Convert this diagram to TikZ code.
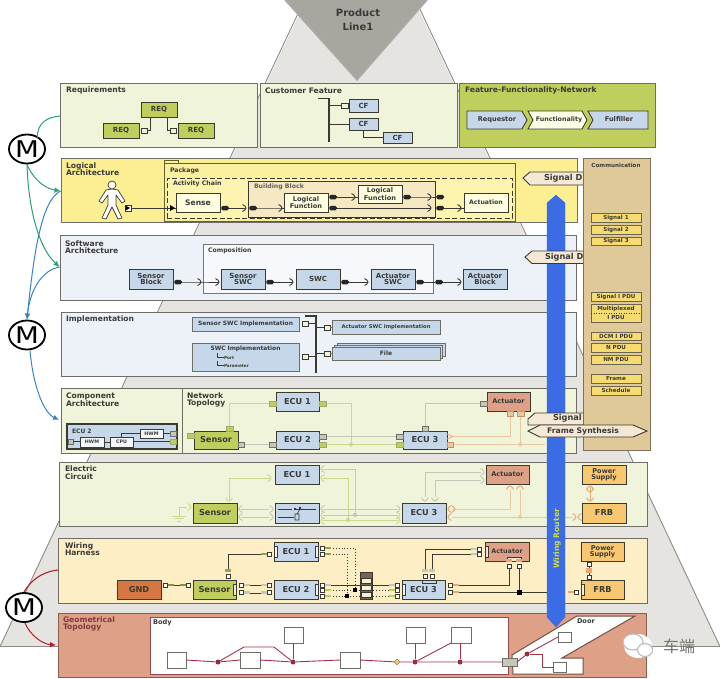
\documentclass[tikz,border=0pt]{standalone}
\usepackage{graphicx}
\usepackage{fontspec}
\setmainfont{DejaVu Sans}
\newfontfamily\cjkf{Noto Sans CJK SC}
\usetikzlibrary{arrows.meta,calc,shapes.geometric}
\definecolor{txt}{HTML}{3A3A38}
\definecolor{edge}{HTML}{6F6E66}
\definecolor{dk}{HTML}{3B3A30}
\definecolor{pyr}{HTML}{E6E4E1}
\definecolor{pale}{HTML}{F0F4DA}
\definecolor{lime}{HTML}{BFCE5C}
\definecolor{ecu}{HTML}{C6D7EA}
\definecolor{act}{HTML}{DFA088}
\definecolor{orng}{HTML}{F8C870}
\definecolor{sig}{HTML}{F6DC70}
\definecolor{comm}{HTML}{DFC998}
\definecolor{tagf}{HTML}{F5E8D4}
\definecolor{lgreen}{HTML}{CCD88C}
\definecolor{lgray}{HTML}{C6C7B6}
\definecolor{ltan}{HTML}{E8C9A0}
\definecolor{lorng}{HTML}{E9A774}
\definecolor{teal}{HTML}{2A9D7A}
\definecolor{mblue}{HTML}{3A82C4}
\definecolor{mred}{HTML}{B3202A}
\definecolor{route}{HTML}{A8324A}
\definecolor{logf}{HTML}{FBEE93}
\definecolor{pkgf}{HTML}{FBF0A0}
\definecolor{actf}{HTML}{FDF4B0}
\definecolor{bbf}{HTML}{F6E8C3}
\definecolor{swf}{HTML}{EDF1F8}
\definecolor{cpf}{HTML}{F6F8FC}
\definecolor{wiref}{HTML}{FDEEC6}
\definecolor{router}{HTML}{3B6CE6}
\definecolor{tri}{HTML}{A9A6A0}
\newcommand\Bx[7][]{%
 \pgfmathsetmacro\bxW{#5-#3}\pgfmathsetmacro\bxH{#6-#4}%
 \pgfmathsetmacro\bxX{(#3+#5)/2}\pgfmathsetmacro\bxY{(#4+#6)/2}%
 \node[bx,minimum width=\bxW pt,minimum height=\bxH pt,#1] (#2) at (\bxX,\bxY) {#7};}
\newcommand\Sk[5][dk]{% socket: colour, name, x, y, angle
 \coordinate (#2) at (#3,#4);
 \draw[#1,line width=0.9pt,shift={(#3,#4)},rotate=#5] (-2.5,-3.5) .. controls (0,-3) and (0.5,-1) .. (1,0) .. controls (0.5,1) and (0,3) .. (-2.5,3.5);}
\newcommand\Pn[5][180]{% pin: angle, name, x, y, colour
 \node[pinb,fill=white] (#2) at (#3,#4) {};
 \node[pinb,fill=#5,minimum width=6pt,minimum height=2.6pt,draw=none] at ($(#2)+(#1:5.5pt)$) {};}
\tikzset{
 x=1pt,y=-1pt,
 bx/.style={draw=dk,line width=0.9pt,inner sep=0pt,outer sep=0pt,align=center,text=txt,
   font=\fontsize{7}{7}\selectfont\bfseries},
 layer/.style={draw=edge,line width=0.9pt},
 lab/.style={inner sep=0pt,outer sep=0pt,anchor=west,align=left,text=txt,
   font=\fontsize{7.6}{7.6}\selectfont\bfseries},
 small/.style={font=\fontsize{6.2}{6.2}\selectfont\bfseries},
 big/.style={font=\fontsize{8.2}{8.2}\selectfont\bfseries},
 ecub/.style={fill=ecu,big},
 swb/.style={fill=ecu,font=\fontsize{7}{6.6}\selectfont\bfseries},
 gp/.style={fill=lgray,draw=edge,line width=0.5pt},
 lp/.style={fill=lime,draw=lgreen!70!dk,line width=0.5pt},
 op/.style={fill=ltan,draw=lorng!80!dk,line width=0.6pt},
 plus/.style={fill=pale,draw=dk,line width=0.5pt},
 prov/.style={fill=black!85,draw=none,rounded corners=1.5pt,minimum width=7.5pt,minimum height=4.5pt,inner sep=0pt,outer sep=0pt},
 wire/.style={dk,line width=0.9pt},
 sigb/.style={fill=sig,draw=dk!70!comm,line width=0.8pt,font=\fontsize{5.6}{6.4}\selectfont\bfseries},
 pinb/.style={draw=dk,line width=0.4pt,minimum width=4.5pt,minimum height=4pt,inner sep=0pt,outer sep=0pt},
 tag/.style={fill=tagf,draw=dk,line width=0.9pt},
 mcirc/.style={ellipse,draw=black,line width=1.8pt,fill=white,minimum width=36pt,minimum height=29pt,inner sep=0pt,
   font=\fontsize{23}{23}\selectfont},
 marr/.style={line width=1pt,-{Latex[length=6pt,width=5.5pt]}},
 geo/.style={fill=white,draw=edge,line width=0.9pt},
 rt/.style={route,line width=0.9pt},
 rdot/.style={circle,fill=route!90!black,inner sep=0pt,minimum size=5pt},
 bsq/.style={fill=black,inner sep=0pt,minimum size=3.5pt},
}
\begin{document}
\begin{tikzpicture}
\useasboundingbox (0,0) rectangle (720,678);
% pyramid
\fill[pyr] (320,-30) -- (400,-30) -- (720,646.5) -- (0,646.5) -- cycle;
\draw[edge!80,line width=0.9pt] (302,5) -- (0,646.5) -- (720,646.5) -- (418,5);
\fill[tri] (285,0) -- (357,80) -- (427,0) -- cycle;
\draw[black!25!pyr,line width=1.4pt] (285,0) -- (357,80) -- (427,0);
\node[align=center,inner sep=0pt,text=txt,font=\fontsize{10}{14}\selectfont\bfseries] (pl) at (358,20) {Product\\Line1};

% layers
\Bx[layer,fill=pale]{lReq}{60}{83}{257}{147}{}
\Bx[layer,fill=pale]{lCF}{260}{83}{457}{147}{}
\Bx[layer,fill=lime]{lFFN}{459}{83}{655}{147}{}
\Bx[layer,fill=logf]{lLog}{61}{158}{577}{222}{}
\Bx[layer,fill=swf]{lSW}{60}{235}{576}{300}{}
\Bx[layer,fill=swf]{lImp}{61}{312}{576}{376}{}
\Bx[layer,fill=pale]{lComp}{61}{388}{182}{453}{}
\Bx[layer,fill=pale]{lNet}{182}{388}{576}{453}{}
\Bx[layer,fill=pale]{lEl}{59}{462}{647}{526}{}
\Bx[layer,fill=wiref]{lWH}{58}{538}{647}{603}{}
\Bx[draw=act!60!black,line width=1pt,fill=act]{lGeo}{58}{613}{646}{677}{}

\node[lab] (t1) at (66,90.5) {Requirements};
\node[lab] (t2) at (265,90.5) {Customer Feature};
\node[lab] (t3) at (465,90.5) {Feature-Functionality-Network};
\node[lab] (t4) at (66,169) {Logical\\Architecture};
\node[lab] (t5) at (65,247) {Software\\Architecture};
\node[lab] (t6) at (66,319) {Implementation};
\node[lab] (t7) at (66,400) {Component\\Architecture};
\node[lab] (t8) at (187,400) {Network\\Topology};
\node[lab] (t9) at (65,472.5) {Electric\\Circuit};
\node[lab] (t10) at (65,549) {Wiring\\Harness};
\node[lab,text=route!70!act!70!black] (t11) at (63,624) {Geometrical\\Topology};

% requirements
\Bx[fill=lime]{r1}{141}{102}{177}{117}{REQ}
\Bx[fill=lime]{r2}{103}{123}{139}{138}{REQ}
\Bx[fill=lime]{r3}{178}{123}{214}{138}{REQ}
\Bx[plus]{rp1}{141}{128}{147}{133}{}
\Bx[plus]{rp2}{170}{128}{176}{133}{}
\draw[wire] (150,117) |- (rp1.east);
\draw[wire] (167,117) |- (rp2.west);

% customer feature
\Bx[fill=ecu]{c1}{349}{99}{378}{112}{CF}
\Bx[fill=ecu]{c2}{349}{118}{378}{130}{CF}
\Bx[fill=ecu]{c3}{383}{132}{412}{143}{CF}
\Bx[plus]{cp}{341}{103}{348}{108}{}
\coordinate (cb) at (329,142);
\draw[wire,line width=1.1pt] (318,98.5) -- (329,98.5) -- (cb);
\draw[wire] (329,105.5) -- (cp.west);
\draw[wire] (cp.east) -- (c1.west |- cp.east);
\draw[wire] (329,124) -- (c2.west);
\draw[wire] (363,130) |- (c3.west);

% FFN
\draw[fill=ecu,draw=dk,line width=0.9pt] (467,111) -- (522,111) -- (527,120) -- (522,129) -- (467,129) -- cycle;
\draw[fill=white!90!yellow,draw=dk,line width=0.9pt] (528,111) -- (582,111) -- (587,120) -- (582,129) -- (528,129) -- (533,120) -- cycle;
\draw[fill=ecu,draw=dk,line width=0.9pt] (588,111) -- (648,111) -- (648,129) -- (588,129) -- (593,120) -- cycle;
\node[text=txt,font=\fontsize{6.6}{6.6}\selectfont\bfseries] (ff1) at (497,119.5) {Requestor};
\node[text=txt,font=\fontsize{6.3}{6.3}\selectfont\bfseries] (ff2) at (559,119.5) {Functionality};
\node[text=txt,font=\fontsize{6.6}{6.6}\selectfont\bfseries] (ff3) at (619,119.5) {Fulfiller};

% logical architecture
\Bx[fill=pkgf,line width=1pt,draw=dk!80!yellow]{pkgTab}{164}{160}{178}{164}{}
\Bx[fill=pkgf,line width=1pt,draw=dk!80!yellow]{pkg}{164}{163}{515}{221}{}
\Bx[fill=actf,dashed,dash pattern=on 5pt off 2.5pt]{act1}{167}{178}{512}{218}{}
\node[lab,font=\fontsize{6.2}{6.2}\selectfont\bfseries] (pkt) at (170,171) {Package};
\node[lab,font=\fontsize{6.2}{6.2}\selectfont\bfseries] (act) at (173,184) {Activity Chain};
\Bx[fill=bbf]{bb}{248}{181}{435}{217}{}
\node[lab,font=\fontsize{6.2}{6.2}\selectfont\bfseries,text=txt!80!white] (bbt) at (254,187) {Building Block};
\Bx[fill=yellow!12!white,font=\fontsize{7.6}{7.6}\selectfont\bfseries]{sense}{176}{193}{220}{212}{Sense}
\Bx[fill=yellow!12!white,font=\fontsize{6.6}{6.2}\selectfont\bfseries]{lf1}{284}{193}{328}{212}{Logical\\Function}
\Bx[fill=yellow!12!white,font=\fontsize{6.6}{6.2}\selectfont\bfseries]{lf2}{358}{185}{402}{203}{Logical\\Function}
\Bx[fill=yellow!12!white,font=\fontsize{6.2}{6.2}\selectfont\bfseries]{actn}{464}{193}{508}{212}{Actuation}
% human
\draw[fill=white,draw=dk,line width=0.7pt,line join=round] (112,189) -- (106,190) -- (99,201) -- (102,203) -- (108,195) -- (108,205) -- (102,218) -- (106,219) -- (112,207) -- (118,219) -- (122,218) -- (116,205) -- (116,195) -- (122,203) -- (125,201) -- (118,190) -- cycle;
\node[circle,draw=dk,fill=white,line width=0.7pt,minimum size=8pt,inner sep=0pt] (head) at (112,185) {};
\Bx[fill=white,line width=0.6pt]{hp}{125}{205}{131}{211}{}
\draw[wire] (hp.east) -- (sense.west |- hp.east);
\fill[black] (170,205) -- (175,208) -- (170,211) -- cycle;
\fill[black] (125.5,205.5) -- (130,208) -- (125.5,210.5) -- cycle;
\node[prov] (pa) at (225,208) {};
\Sk{sa}{245}{208}{0}
\node[prov] (pb) at (253,208) {};
\Sk{sb}{281}{208}{0}
\draw[wire] (pa) -- (sa) (pb) -- (sb) -- (lf1.west |- sb);
\node[prov] (pc) at (333,197) {};
\node[prov] (pd) at (333,208) {};
\Sk{sc}{354}{197}{0}
\Sk{sd}{430}{208}{0}
\node[prov] (pe) at (440,208) {};
\Sk{se}{460}{208}{0}
\draw[wire] (pc) -- (lf2.west |- pc);
\draw[wire] (pd) -- (sd) (pe) -- (actn.west |- pe);
\node[prov] (pf) at (407,197) {};
\Sk{sf}{430}{197}{0}
\node[prov] (pg) at (440,197) {};
\draw[wire] (pf) -- (sf) -- (pg);

% software architecture
\Bx[fill=cpf,draw=dk!70!white,line width=1pt]{comp}{203}{244}{433}{293}{}
\node[lab,font=\fontsize{6.2}{6.2}\selectfont\bfseries] (compt) at (208,250.5) {Composition};
\Bx[swb]{sb1}{129}{269}{173}{289}{Sensor\\Block}
\Bx[swb]{sb2}{221}{269}{265}{289}{Sensor\\SWC}
\Bx[swb]{sb3}{296}{269}{340}{289}{SWC}
\Bx[swb]{sb4}{371}{269}{415}{289}{Actuator\\SWC}
\Bx[swb]{sb5}{463}{269}{507}{289}{Actuator\\Block}
\node[prov] (q1) at (178,282) {};
\Sk{k1}{200}{282}{0}
\Sk{k2}{218}{282}{0}
\node[prov] (q2) at (270,282) {};
\Sk{k3}{292}{282}{0}
\node[prov] (q3) at (345,282) {};
\Sk{k4}{367}{282}{0}
\node[prov] (q4) at (420,282) {};
\node[prov] (q5) at (439,282) {};
\Sk{k5}{460}{282}{0}
\draw[wire] (q1) -- (k1) -- (k2);
\draw[wire] (q2) -- (k3);
\draw[wire] (q3) -- (k4);
\draw[wire] (q4) -- (q5) -- (k5);

% implementation
\Bx[swb,font=\fontsize{5.9}{6}\selectfont\bfseries,draw=edge]{im1}{192}{317}{299}{331}{Sensor SWC Implementation}
\Bx[swb,draw=edge,text depth=0pt]{im2}{192}{343}{299}{371}{}
\node[text=txt,inner sep=0pt,font=\fontsize{5.9}{6}\selectfont\bfseries] (im2t) at (245.5,348.5) {SWC Implementation};
\node[lab,font=\fontsize{4.2}{4.2}\selectfont\bfseries] (im2p) at (224,357.5) {Port};
\node[lab,font=\fontsize{4.2}{4.2}\selectfont\bfseries] (im2q) at (224,365.5) {Parameter};
\draw[dk,line width=0.5pt] (217,353) |- (im2p.west) (217,361) |- (im2q.west);
\Bx[plus]{ip1}{302}{321}{308}{326}{}
\Bx[plus]{ip2}{302}{354}{308}{359}{}
\Bx[plus]{ip3}{324}{325}{330}{330}{}
\Bx[plus]{ip4}{324}{351}{330}{356}{}
\coordinate (ib) at (316,373);
\draw[wire,line width=1.1pt] (305,316) -- (316,316) -- (ib);
\draw[wire] (ip1.east) -- (316,323.5);
\draw[wire] (ip2.east) -- (316,356.5);
\draw[wire] (316,327.5) -- (ip3.west);
\draw[wire] (316,353.5) -- (ip4.west);
\Bx[swb,font=\fontsize{5.2}{6}\selectfont\bfseries,draw=edge]{im3}{332}{320}{440}{334}{Actuator SWC Implementation}
\Bx[swb,draw=edge]{fl3}{337}{343}{445}{356}{}
\Bx[swb,draw=edge]{fl2}{334.5}{345}{442.5}{358}{}
\Bx[swb,draw=edge,font=\fontsize{6}{6}\selectfont\bfseries]{fl1}{332}{347}{440}{360}{File}
\draw[wire,edge] (ip3.east) -- (im3.west |- ip3.east);
\draw[wire,edge] (ip4.east) -- (fl1.west |- ip4.east);

% component architecture
\Bx[fill=ecu,line width=1.2pt]{ce}{67}{424}{177}{449}{}
\node[lab,font=\fontsize{6}{6}\selectfont\bfseries] (cet) at (72,431) {ECU 2};
\Bx[fill=white!80!ecu,small,font=\fontsize{4.8}{5}\selectfont\bfseries]{ch1}{80}{437}{104}{447}{HWM}
\Bx[fill=white!80!ecu,small,font=\fontsize{4.8}{5}\selectfont\bfseries]{cc}{110}{437}{133}{447}{CPU}
\Bx[fill=white!80!ecu,small,font=\fontsize{4.8}{5}\selectfont\bfseries]{ch2}{140}{429}{163}{438}{HWM}
\Bx[gp]{cg0}{68}{439}{73}{444}{}
\Bx[gp]{cg1}{170}{431}{176}{436}{}
\Bx[lp]{cg2}{170}{439}{176}{444}{}
\draw[wire,line width=0.7pt] (cg0.east) -- (ch1.west |- cg0.east) (ch1.east) -- (cc.west);
\draw[wire,line width=0.7pt] (121,437) |- (ch2.west);
\draw[wire,line width=0.7pt] (cc.east |- cg2) -- (cg2.west);
\draw[wire,line width=0.7pt] (ch2.east |- cg1) -- (cg1.west);

% network topology
\draw[lgreen,line width=0.9pt] (229,426) |- (269,403.5) (326,403.5) -| (351,445);
\draw[lgreen,line width=0.9pt] (326,444.5) -- (396,444.5);
\draw[lgray,line width=0.9pt] (326,436.5) -- (396,436.5) (244,444.5) -- (269,444.5) (425,426) |- (480,403.5);
\draw[ltan,line width=0.9pt] (453,436.5) -| (510,416) (453,444.5) -- (545,444.5) (520,444.5) -- (520,416);
\fill[lgreen] (351,444.5) circle (2pt);
\fill[ltan] (520,444.5) circle (2pt);
\Bx[ecub]{n1}{276}{392}{319}{411}{ECU 1}
\Bx[ecub]{n2}{276}{431}{319}{449}{ECU 2}
\Bx[ecub]{n3}{403}{431}{447}{449}{ECU 3}
\Bx[big,fill=lime]{ns}{194}{431}{238}{449}{Sensor}
\Bx[fill=act,font=\fontsize{6.6}{6.6}\selectfont\bfseries]{na}{487}{392}{530}{411}{Actuator}
\Bx[lp]{a1}{187}{433}{194}{438}{}
\Bx[lp]{a2}{226}{426}{233}{431}{}
\Bx[gp]{a3}{238}{442}{244}{447}{}
\Bx[lp]{a4}{269}{401}{276}{406}{}
\Bx[lp]{a5}{319}{401}{326}{406}{}
\Bx[gp]{a6}{269}{442}{276}{447}{}
\Bx[gp]{a7}{319}{434}{326}{439}{}
\Bx[lp]{a8}{319}{442}{326}{447}{}
\Bx[gp]{a9}{396}{434}{403}{439}{}
\Bx[lp]{a10}{396}{442}{403}{447}{}
\Bx[gp]{a11}{422}{426}{428}{431}{}
\Bx[op]{a12}{447}{442}{453}{447}{}
\Bx[gp]{a13}{480}{401}{487}{406}{}
\Bx[op]{a14}{507}{411}{513}{416}{}
\Bx[op]{a15}{517}{411}{524}{416}{}
\draw[lorng,line width=0.7pt] (447,434) -- (453,436.5) -- (447,439);

% electric circuit
\draw[lgreen,line width=0.9pt] (229,500) |- (270,478);
\draw[lgreen,line width=0.9pt] (187,507) -- (179,507) -- (179,516);
\draw[lgreen,line width=0.9pt] (172,516) -- (186,516) (174.5,518.5) -- (183.5,518.5) (177,521) -- (181,521);
\draw[lgray,line width=0.9pt] (241,509) -- (269,509) (241,517) -- (269,517);
\draw[lgreen,line width=0.9pt] (323,478) -| (348,520);
\draw[lgreen,line width=0.9pt] (323,520) -- (398,520);
\draw[lgray,line width=0.9pt] (323,469) -| (355,515);
\draw[lgray,line width=0.9pt] (323,509) -- (398,509) (323,515) -- (398,515);
\fill[lgreen] (348,520) circle (2pt);
\fill[lgray] (355,515) circle (2pt);
\draw[lgray,line width=0.9pt] (425,497) |- (481,472) (435,497) |- (481,480);
\draw[ltan,line width=0.9pt] (452,509) -| (510,490) (452,517) -- (573,517) (520,517) -- (520,490);
\fill[ltan] (520,517) circle (2pt);
\Bx[ecub]{e1}{275}{465}{319}{484}{ECU 1}
\Bx[fill=ecu]{e2}{275}{503}{319}{523}{}
\Bx[ecub]{e3}{402}{503}{446}{523}{ECU 3}
\Bx[big,fill=lime]{es}{193}{503}{237}{523}{Sensor}
\Bx[fill=act,font=\fontsize{6.6}{6.6}\selectfont\bfseries]{ea}{486}{465}{529}{484}{Actuator}
\Bx[fill=orng,font=\fontsize{6.6}{6.4}\selectfont\bfseries]{ep}{582}{465}{626}{484}{Power\\Supply}
\Bx[fill=orng,big]{ef}{582}{503}{626}{523}{FRB}
\draw[wire,line width=0.7pt] (278,509) -- (292,509) (296,509) -- (316,509) (278,517) -- (294,517);
\fill[black] (295,509) circle (1.2pt) (300,508) circle (1.2pt);
\draw[wire,line width=0.6pt] (295,514) rectangle (299,520) (300,509) -- (297,514);
\Sk[lgreen]{x1}{270}{478}{0}
\Sk[lgreen]{x2}{229}{500}{-90}
\Sk[lgreen]{x3}{190}{507}{0}
\Sk[lgray]{x4}{240}{509}{180}
\Sk[lgray]{x5}{240}{517}{180}
\Sk[lgray]{x6}{272}{509}{0}
\Sk[lgray]{x7}{272}{517}{0}
\Sk[lgreen]{x8}{322}{478}{180}
\Sk[lgray]{x9}{322}{469}{180}
\Sk[lgray]{x10}{322}{509}{180}
\Sk[lgreen]{x11}{322}{515.5}{180}
\Sk[lgreen]{x12}{322}{521}{180}
\Sk[lgray]{x13}{399}{509}{0}
\Sk[lgreen]{x14}{399}{515.5}{0}
\Sk[lgreen]{x15}{399}{520}{0}
\Sk[lgray]{x16}{425}{500}{-90}
\Sk[lgray]{x17}{435}{500}{-90}
\Sk[lgray]{x18}{483}{472}{0}
\Sk[lgray]{x19}{483}{480}{0}
\Sk[lorng]{x20}{449}{509}{180}
\Sk[lorng]{x20b}{454}{509}{0}
\Sk[lorng]{x21}{449}{517}{180}
\Sk[lorng]{x22}{510}{487}{90}
\Sk[lorng]{x23}{520}{487}{90}
\Sk[lorng]{x24}{579}{517}{180}
\Sk[lorng]{x25}{575}{517}{0}
\Sk[lorng]{x26}{590}{487}{90}
\Sk[lorng]{x27}{590}{491}{-90}
\Sk[lorng]{x28}{590}{500}{-90}
\draw[lorng,line width=0.9pt] (590,487) -- (590,500);

% wiring harness
\draw[wire] (228,570) |- (262,554);
\draw[wire,line width=1pt] (425,572) |- (472,549) (432,572) |- (472,554);
\draw[wire,line width=1pt] (240,585) -- (268,585) (240,593) -- (268,593) (170,585) -- (184,585);
\draw[wire,line width=1pt] (327,585) -- (395,585);
\draw[wire,dotted,line width=1pt] (327,590) -- (395,590) (327,596) -- (395,596) (327,548) -| (355,590) (327,554) -| (347,596);
\draw[wire,line width=1pt] (456,585) -| (509,567) (456,592) -- (565,592) (519,592) -- (519,567);
\draw[wire,line width=1pt] (589,562) -- (589,580);
\Bx[ecub]{w1}{274}{542}{318}{561}{ECU 1}
\Bx[ecub]{w2}{274}{580}{318}{599}{ECU 2}
\Bx[ecub]{w3}{402}{580}{445}{599}{ECU 3}
\Bx[big,fill=lime]{ws}{193}{580}{236}{599}{Sensor}
\Bx[big,fill=orng!70!red!85!black,text=dk]{wg}{117}{580}{161}{599}{GND}
\Bx[fill=act,font=\fontsize{6.4}{6.4}\selectfont\bfseries]{wa}{485}{542}{529}{561}{Actuator}
\Bx[fill=orng,font=\fontsize{6.6}{6.4}\selectfont\bfseries]{wp}{581}{542}{624}{561}{Power\\Supply}
\Bx[fill=orng,big]{wf}{581}{580}{624}{599}{FRB}
% inner connector bars
\Bx[fill=white!70!ecu,line width=0.7pt]{b1}{274}{546}{277}{557}{}
\Bx[fill=white!70!ecu,line width=0.7pt]{b2}{315}{546}{318}{557}{}
\Bx[fill=white!70!ecu,line width=0.7pt]{b3}{315}{584}{318}{595}{}
\Bx[fill=white!70!ecu,line width=0.7pt]{b4}{402}{584}{405}{595}{}
\Bx[fill=white!70!lime,line width=0.7pt]{b5}{233}{584}{236}{595}{}
\Bx[fill=white!70!act,line width=0.7pt]{b6}{485}{546}{488}{557}{}
\Bx[fill=white!70!orng,line width=0.7pt]{b7}{581}{584}{584}{595}{}
\Bx[fill=ecu,line width=0.7pt]{b8}{422}{580}{436}{583}{}
\Bx[fill=white!70!act,line width=0.7pt]{b9}{507}{557}{521}{561}{}
\Pn[180]{y1}{269}{554}{lime!80!black}
\Pn[90]{y3}{228}{576}{lime!80!black}
\Pn[180]{y4}{188}{585}{lime!70!black}
\Pn[0]{y5}{165}{585}{lime!70!black}
\Pn[0]{y6}{241}{585}{lgray}
\Pn[0]{y7}{241}{592.5}{lgray}
\Pn[180]{y8}{269}{585}{lgray}
\Pn[180]{y9}{269}{592.5}{lgray}
\Pn[0]{y10}{322}{548}{lime!80!black}
\Pn[0]{y11}{322}{554}{lime!80!black}
\Pn[0]{y12}{322}{585}{lgray}
\Pn[0]{y13}{322}{590}{lime}
\Pn[0]{y14}{322}{596}{lime}
\Pn[180]{y15}{397}{585}{lgray}
\Pn[180]{y16}{397}{590}{lime}
\Pn[180]{y17}{397}{596}{lime}
\Pn[0]{y18}{450}{585}{lorng}
\Pn[0]{y19}{450}{592}{lorng}
\Pn[90]{y20}{425}{576}{lgray}
\Pn[90]{y21}{432}{576}{lgray}
\Pn[180]{y22}{479}{549}{lgray}
\Pn[180]{y23}{479}{554}{lgray}
\Pn[90]{y24}{509}{566}{lorng}
\Pn[90]{y25}{519}{566}{lorng}
\Pn[180]{y26}{576}{592}{lorng}
\Pn[-90]{y27}{589}{564}{lorng}
\Pn[90]{y28}{589}{577}{lorng}
\Bx[fill=act!40!dk,line width=0.7pt]{cblock}{360}{572}{372}{599}{}
\Bx[fill=white!75!lime,line width=0.4pt]{cb1}{361}{578}{371}{583}{}
\Bx[fill=white!75!lime,line width=0.4pt]{cb2}{361}{585}{371}{590}{}
\Bx[fill=white!75!lime,line width=0.4pt]{cb3}{361}{592}{371}{597}{}
\node[bsq] (j1) at (355,590) {};
\node[bsq] (j2) at (347,596) {};
\node[bsq,minimum size=5pt] (j3) at (519,592) {};

% geometrical topology
\Bx[fill=white,draw=route!60!edge,line width=1pt]{body}{150}{617}{508}{674}{}
\node[lab,font=\fontsize{6.6}{6.6}\selectfont\bfseries] (bodyt) at (153,623) {Body};
\draw[fill=white,draw=act!50!black,line width=1pt] (512,655) -- (577,616) -- (635,616) -- (562,658) -- (583,658) -- (583,674) -- (513,674) -- cycle;
\node[lab,font=\fontsize{6.6}{6.6}\selectfont\bfseries] (doort) at (577,621) {Door};
\Bx[geo]{g1}{167}{652}{186}{668}{}
\Bx[geo]{g2}{240}{652}{260}{668}{}
\Bx[geo]{g3}{284}{627}{303}{643}{}
\Bx[geo]{g4}{340}{652}{360}{668}{}
\Bx[geo]{g5}{406}{627}{425}{643}{}
\Bx[geo]{g6}{451}{627}{471}{643}{}
\Bx[geo]{g7}{558}{632}{571}{642}{}
\Bx[geo]{g8}{553}{662}{566}{672}{}
\Bx[fill=lgray,draw=edge,line width=0.9pt]{gw}{502}{658}{517}{666}{}
\node[rdot] (d1) at (218,662) {};
\node[rdot] (d2) at (293,662) {};
\node[rdot] (d3) at (415,662) {};
\node[rdot] (d4) at (460,662) {};
\node[rdot] (d5) at (527,654) {};
\node[diamond,aspect=1.3,fill=sig!80!orange,draw=edge,line width=0.4pt,inner sep=0pt,minimum size=6pt] (d6) at (397,662) {};
\draw[rt] (g1.east) -- (d1) -- (g2.west) (g2.east) -- (d2) -- (g4.west) (g4.east) -- (d6) -- (d3) -- (d4) -- (gw.west);
\draw[rt] (d1) -- (244,647) -- (274,647) -- (d2);
\draw[rt] (d2) -- (g3.south -| d2);
\draw[rt] (d3) -- (g5.south -| d3);
\draw[rt] (d3) -- (g6.south west);
\draw[rt] (d4) -- (g6.south -| d4);
\draw[rt] (gw.east) -- (d5) -- (g7.west);
\draw[rt] (d5) -- (542,654) |- (g8.west);

% router and tags
\draw[draw=router,fill=router,line width=0.3pt] (556,195) -- (565,203) -- (565,617) -- (556,627) -- (547,617) -- (547,203) -- cycle;
\node[rotate=90,text=lime!70!yellow,font=\fontsize{7.6}{7.6}\selectfont\bfseries] (wr) at (557,539) {Wiring Router};
\draw[tag] (523,178) -- (530,172) -- (590,172) -- (590,185) -- (530,185) -- cycle;
\draw[tag] (525,257) -- (532,251) -- (590,251) -- (590,263.5) -- (532,263.5) -- cycle;
\draw[tag] (528,419) -- (535,413) -- (590,413) -- (590,425) -- (528,425) -- cycle;
\node[lab,font=\fontsize{8.2}{8.2}\selectfont\bfseries] (sd1) at (544,178.5) {Signal D};
\node[lab,font=\fontsize{8.2}{8.2}\selectfont\bfseries] (sd2) at (545,257.5) {Signal D};
\node[lab,font=\fontsize{8.2}{8.2}\selectfont\bfseries] (sd3) at (553,418.5) {Signal};

% communication
\Bx[fill=comm,draw=edge!90!orange,line width=1pt]{cm}{583}{158}{650}{450}{}
\node[text=txt,font=\fontsize{5.6}{5.6}\selectfont\bfseries] (cmt) at (616,165) {Communication};
\Bx[sigb]{s1}{591}{213}{641}{222}{Signal 1}
\Bx[sigb]{s2}{591}{225}{641}{234}{Signal 2}
\Bx[sigb]{s3}{591}{237}{641}{245}{Signal 3}
\Bx[sigb]{s4}{591}{292}{641}{301}{Signal I PDU}
\Bx[sigb]{s5}{591}{304}{641}{322}{Multiplexed\\[2pt]I PDU}
\draw[dk,dotted,line width=0.5pt] (s5.west) -- (s5.east);
\Bx[sigb]{s6}{591}{332}{641}{340}{DCM I PDU}
\Bx[sigb]{s7}{591}{343}{641}{352}{N PDU}
\Bx[sigb]{s8}{591}{355}{641}{364}{NM PDU}
\Bx[sigb]{s9}{591}{374}{641}{383}{Frame}
\Bx[sigb]{s10}{591}{386}{641}{395}{Schedule}
\draw[tag] (528,431) -- (540,425) -- (633,425) -- (647,431) -- (633,437) -- (540,437) -- cycle;
\node[lab,font=\fontsize{7.7}{7.7}\selectfont\bfseries] (fs) at (547,431) {Frame Synthesis};

% M symbols
\node[mcirc] (m1) at (27,149) {\scalebox{1.2}[1]{M}};
\node[mcirc] (m2) at (27,335) {\scalebox{1.2}[1]{M}};
\node[mcirc] (m3) at (24,607.5) {\scalebox{1.2}[1]{M}};
\coordinate (rqIn) at (60.5,116);
\coordinate (logIn) at (60.5,191);
\coordinate (swIn) at (59.5,267);
\coordinate (cpIn) at (59,420);
\coordinate (whIn) at (58,570);
\coordinate (geIn) at (56,645);
\draw[teal,line width=1pt] (m1.north east) ++(-3,0) .. controls (37,122) and (48,117) .. (rqIn);
\draw[mblue,marr] (logIn) .. controls (42,200) and (34,250) .. (m2.north);
\draw[mblue,marr] (swIn) .. controls (42,270) and (30,290) .. (m2.north);
\draw[teal,marr] (m1.south) .. controls (31,175) and (42,188) .. (logIn);
\draw[teal,marr] (m1.south) .. controls (28,200) and (36,245) .. (swIn);
\draw[mblue,marr] (m2.south) ++(3,0) .. controls (33,385) and (43,412) .. (cpIn);
\draw[mred,line width=1.1pt] (m3.north) .. controls (30,582) and (40,572) .. (whIn);
\draw[mred,marr] (m3.south) ++(1,0) .. controls (30,635) and (42,644) .. (geIn);

% watermark
\fill[white] (638,646) ellipse (14pt and 12pt);
\node[ellipse,fill=white,draw=black!25,line width=1.2pt,minimum width=20pt,minimum height=16pt,inner sep=0pt] (wa1) at (633,642) {};
\node[ellipse,fill=white,draw=black!25,line width=1.2pt,minimum width=15pt,minimum height=13pt,inner sep=0pt] (wa2) at (645,650) {};
\node[text=black!55,font=\cjkf\fontsize{16}{16}\selectfont] (wm) at (679,646) {车端};
\end{tikzpicture}
\end{document}
